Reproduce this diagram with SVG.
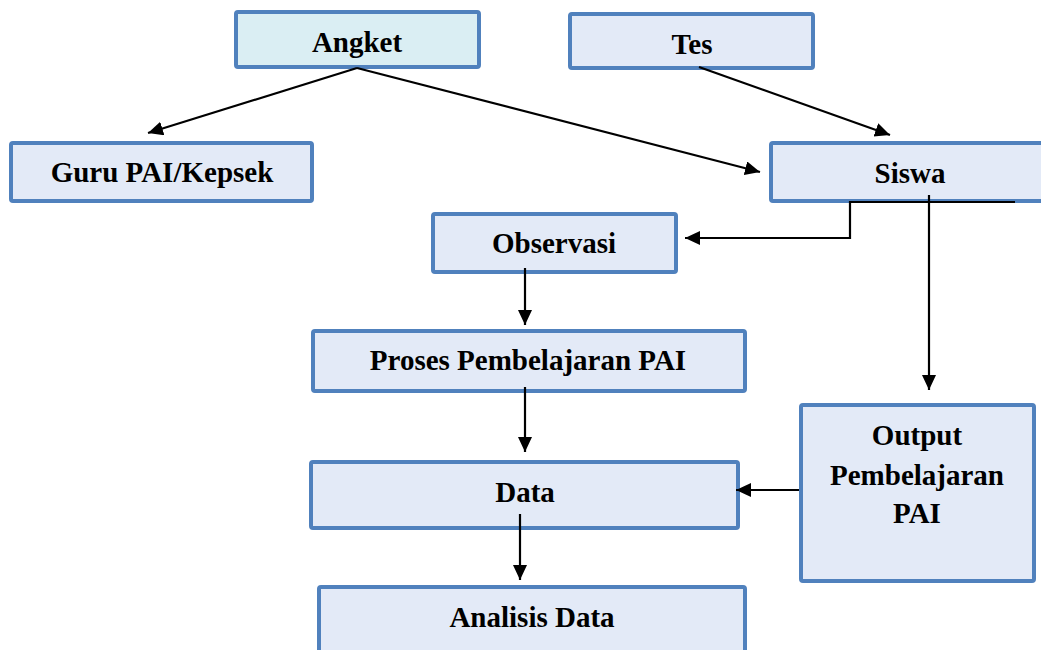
<svg xmlns="http://www.w3.org/2000/svg" width="1041" height="650" viewBox="0 0 1041 650">
<style>
.box{fill:#E3EAF7;stroke:#5081BD;stroke-width:4}
.box2{fill:#DAEEF3;stroke:#5081BD;stroke-width:4}
.t{font-family:'Liberation Serif',serif;font-weight:700;font-size:29px;fill:#000;text-anchor:middle}
.c{fill:none;stroke:#000;stroke-width:2.2}
</style>
<defs>
<marker id="ah" markerUnits="userSpaceOnUse" markerWidth="16" markerHeight="15" refX="15" refY="7" orient="auto">
<path d="M0,0 L15,7 L0,14 z" fill="#000"/>
</marker>
</defs>
<rect width="1041" height="650" fill="#fff"/>
<g id="angket"><rect class="box2" x="236" y="12" width="243" height="55" rx="2"/><text class="t" x="357" y="52">Angket</text></g>
<g id="tes"><rect class="box" x="570" y="14" width="243" height="54" rx="2"/><text class="t" x="692" y="54">Tes</text></g>
<g id="guru"><rect class="box" x="11" y="143" width="301" height="58" rx="2"/><text class="t" x="162" y="182">Guru PAI/Kepsek</text></g>
<g id="siswa"><rect class="box" x="771" y="143" width="280" height="58" rx="2"/><text class="t" x="910" y="183">Siswa</text></g>
<g id="observasi"><rect class="box" x="433" y="214" width="243" height="58" rx="2"/><text class="t" x="554" y="253">Observasi</text></g>
<g id="proses"><rect class="box" x="313" y="331" width="432" height="60" rx="2"/><text class="t" x="528" y="370">Proses Pembelajaran PAI</text></g>
<g id="data"><rect class="box" x="311" y="462" width="427" height="66" rx="2"/><text class="t" x="525" y="502">Data</text></g>
<g id="output"><rect class="box" x="801" y="405" width="233" height="176" rx="2"/><text class="t" x="917" y="445">Output</text><text class="t" x="917" y="485">Pembelajaran</text><text class="t" x="917" y="523">PAI</text></g>
<g id="analisis"><rect class="box" x="319" y="587" width="426" height="80" rx="2"/><text class="t" x="532" y="627">Analisis Data</text></g>
<g id="connectors">
<path class="c" d="M357,68 L148,133" marker-end="url(#ah)"/>
<path class="c" d="M357,68 L760,172" marker-end="url(#ah)"/>
<path class="c" d="M699,67 L890,135" marker-end="url(#ah)"/>
<path class="c" d="M1015,202 L850,202 L850,238 L685,238" marker-end="url(#ah)"/>
<path class="c" d="M929,195 L929,390" marker-end="url(#ah)"/>
<path class="c" d="M525,268 L525,325" marker-end="url(#ah)"/>
<path class="c" d="M525,387 L525,452" marker-end="url(#ah)"/>
<path class="c" d="M520,514 L520,580" marker-end="url(#ah)"/>
<path class="c" d="M799,490 L736,490" marker-end="url(#ah)"/>
</g>
</svg>
